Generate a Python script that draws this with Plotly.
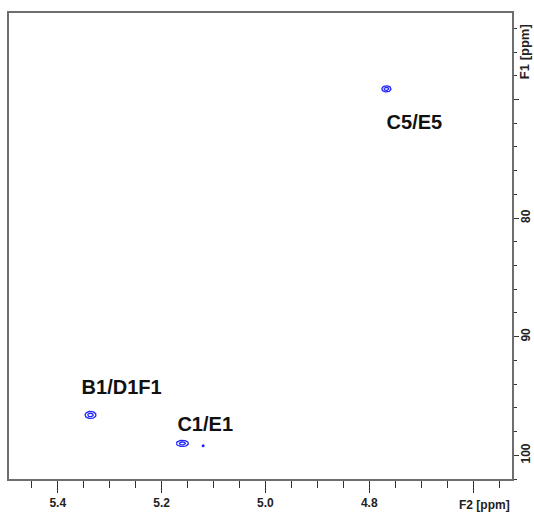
import numpy as np
import plotly.graph_objects as go

# Cross-peak centres (F2 = 1H, F1 = 13C), ppm
peak_f2 = [4.767, 5.337, 5.160]
peak_f1 = [69.1, 96.6, 99.0]
# contour half-widths in ppm (F2, F1)
peak_rx = [0.0088, 0.0105, 0.0115]
peak_ry = [0.26, 0.30, 0.26]

# weak single-point response next to C1/E1
weak_f2 = [5.120]
weak_f1 = [99.2]

# assignment labels
label_text = ["C5/E5", "B1/D1F1", "C1/E1"]
label_f2 = [4.713, 5.277, 5.116]
label_f1 = [72.1, 94.4, 97.5]

BLUE = "#1f24ff"
fig = go.Figure()

t = np.linspace(0, 2 * np.pi, 60)
for cx, cy, rx, ry in zip(peak_f2, peak_f1, peak_rx, peak_ry):
    for s in (1.0, 0.5):
        fig.add_trace(go.Scatter(
            x=cx + s * rx * np.cos(t), y=cy + s * ry * np.sin(t),
            mode="lines", line=dict(color=BLUE, width=1.3),
            hoverinfo="skip", showlegend=False))

fig.add_trace(go.Scatter(
    x=weak_f2, y=weak_f1, mode="markers",
    marker=dict(color=BLUE, size=3), showlegend=False))

fig.add_trace(go.Scatter(
    x=label_f2, y=label_f1, mode="text", text=label_text,
    textfont=dict(family="Liberation Sans, Arial", size=20, color="#111", weight="bold"),
    showlegend=False, hoverinfo="skip"))

NARROW = "Liberation Sans Narrow, Arial Narrow, Liberation Sans"
tickfont = dict(family=NARROW, size=12, color="#222", weight="bold")
axis_line = dict(showline=True, linecolor="#6e6e6e", linewidth=1.8, mirror=True,
                 showgrid=False, zeroline=False)

fig.update_xaxes(
    range=[5.494, 4.525], tickmode="linear", tick0=5.4, dtick=0.2,
    tickformat=".1f", labelalias={"4.6": " "},
    ticks="outside", ticklen=12, tickwidth=1, tickcolor="#333",
    minor=dict(tickmode="linear", tick0=5.4, dtick=0.05, ticks="outside",
               ticklen=7, tickwidth=1, tickcolor="#333"),
    tickfont=tickfont, **axis_line)

fig.update_yaxes(
    range=[102, 62.7], side="right", tickmode="linear", tick0=70, dtick=10,
    labelalias={"70": " "}, tickangle=-90, ticklabelstandoff=-3,
    ticks="outside", ticklen=5, tickwidth=1, tickcolor="#333",
    minor=dict(tickmode="linear", tick0=70, dtick=2, ticks="outside",
               ticklen=3, tickwidth=1, tickcolor="#333"),
    tickfont=tickfont, automargin=False, **axis_line)

fig.add_annotation(text="F2 [ppm]", xref="paper", yref="paper", x=1, y=0,
                   xanchor="right", yanchor="top", yshift=-17, showarrow=False,
                   font=dict(family=NARROW, size=12, color="#222", weight="bold"))
fig.add_annotation(text="F1 [ppm]", xref="paper", yref="y", x=1, y=66.0,
                   xanchor="center", yanchor="middle", xshift=12, textangle=-90,
                   showarrow=False,
                   font=dict(family="Liberation Sans, Arial", size=13, color="#222", weight="bold"))

fig.update_layout(
    width=534, height=515,
    margin=dict(l=9, r=22, t=13, b=36, autoexpand=False),
    paper_bgcolor="white", plot_bgcolor="white")

fig.write_html("out.html")
